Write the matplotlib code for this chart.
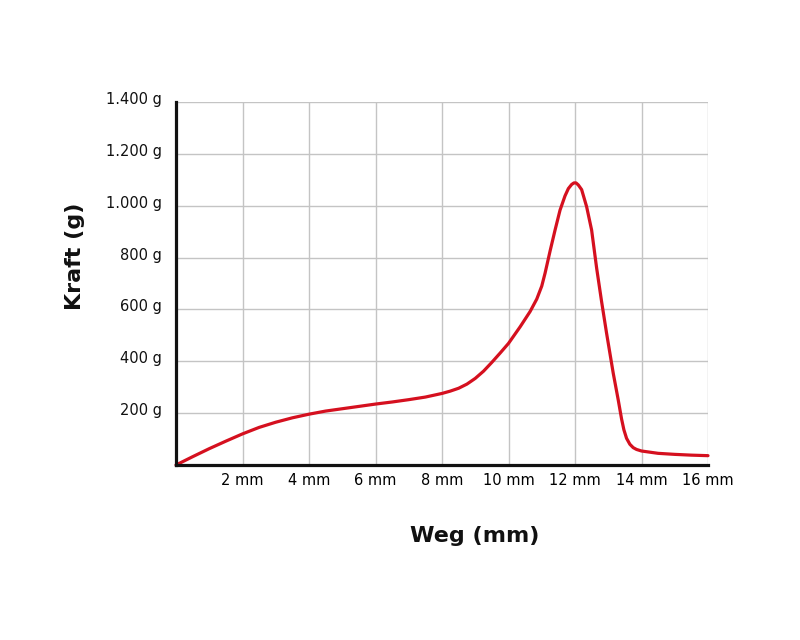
import matplotlib
matplotlib.use('Agg')
import matplotlib.pyplot as plt
from matplotlib.transforms import ScaledTranslation

# Weg (mm) vs Kraft (g)
weg = [0, 0.5, 1, 1.5, 2, 2.5, 3, 3.5, 4, 4.5, 5, 5.5, 6, 6.5, 7, 7.5, 8,
       8.25, 8.5, 8.75, 9, 9.25, 9.5, 9.75, 10, 10.35, 10.65, 10.85, 11.0,
       11.1, 11.25, 11.4, 11.55, 11.7, 11.8, 11.9, 11.97, 12.03, 12.1, 12.2,
       12.35, 12.5, 12.65, 12.8, 12.95, 13.15, 13.3, 13.4, 13.47, 13.55,
       13.65, 13.75, 13.85, 14, 14.5, 15, 15.5, 16]
kraft = [0, 32, 63, 92, 120, 145, 165, 182, 196, 208, 217, 226, 235, 243,
         252, 262, 276, 285, 296, 312, 334, 362, 396, 432, 469, 533, 592,
         640, 690, 740, 825, 906, 983, 1038, 1066, 1082, 1088, 1088, 1080,
         1062, 996, 906, 760, 630, 508, 354, 251, 178, 136, 103, 80, 67, 60,
         54, 45, 41, 38, 36]

x_ticks = [2, 4, 6, 8, 10, 12, 14, 16]
x_labels = ["2 mm", "4 mm", "6 mm", "8 mm", "10 mm", "12 mm", "14 mm", "16 mm"]
y_ticks = [200, 400, 600, 800, 1000, 1200, 1400]
y_labels = ["200 g", "400 g", "600 g", "800 g", "1.000 g", "1.200 g", "1.400 g"]

plt.rcParams['font.family'] = ['DejaVu Sans']

fig = plt.figure(figsize=(8, 6.4), dpi=100)
ax = fig.add_axes([176 / 800, 1 - 465 / 640, 532 / 800, 363 / 640])

ax.plot(weg, kraft, color='#d5101f', linewidth=2.3, solid_capstyle='round',
        solid_joinstyle='round', zorder=3, clip_on=False)

ax.set_xlim(0, 16)
ax.set_ylim(0, 1400)
ax.set_xticks(x_ticks)
ax.set_xticklabels(x_labels, fontsize=10.5)
ax.set_yticks(y_ticks)
ax.set_yticklabels([])
ax.tick_params(axis='both', length=0)
ax.tick_params(axis='x', pad=6)

# y labels drawn as text so the baseline can sit just under the gridline
ylab_trans = ax.get_yaxis_transform() + ScaledTranslation(-14 / 100, -2 / 100, fig.dpi_scale_trans)
for val, txt in zip(y_ticks, y_labels):
    ax.text(0, val, txt, transform=ylab_trans, fontsize=10.5,
            ha='right', va='baseline', color='#111111')

ax.grid(True, color='#c4c4c4', linewidth=1.0)
ax.set_axisbelow(True)
for side in ['top', 'right']:
    ax.spines[side].set_visible(False)
for side in ['left', 'bottom']:
    ax.spines[side].set_linewidth(2.3)
    ax.spines[side].set_color('#111111')
    ax.spines[side].set_zorder(4)

fig.text(475 / 800, 1 - 536 / 640, "Weg (mm)", fontsize=16, fontweight='bold',
         ha='center', va='center', color='#111111')
fig.text(75 / 800, 1 - 256 / 640, "Kraft (g)", fontsize=16, fontweight='bold',
         ha='center', va='center', rotation=90, color='#111111')

fig.savefig("out.png", dpi=100)
